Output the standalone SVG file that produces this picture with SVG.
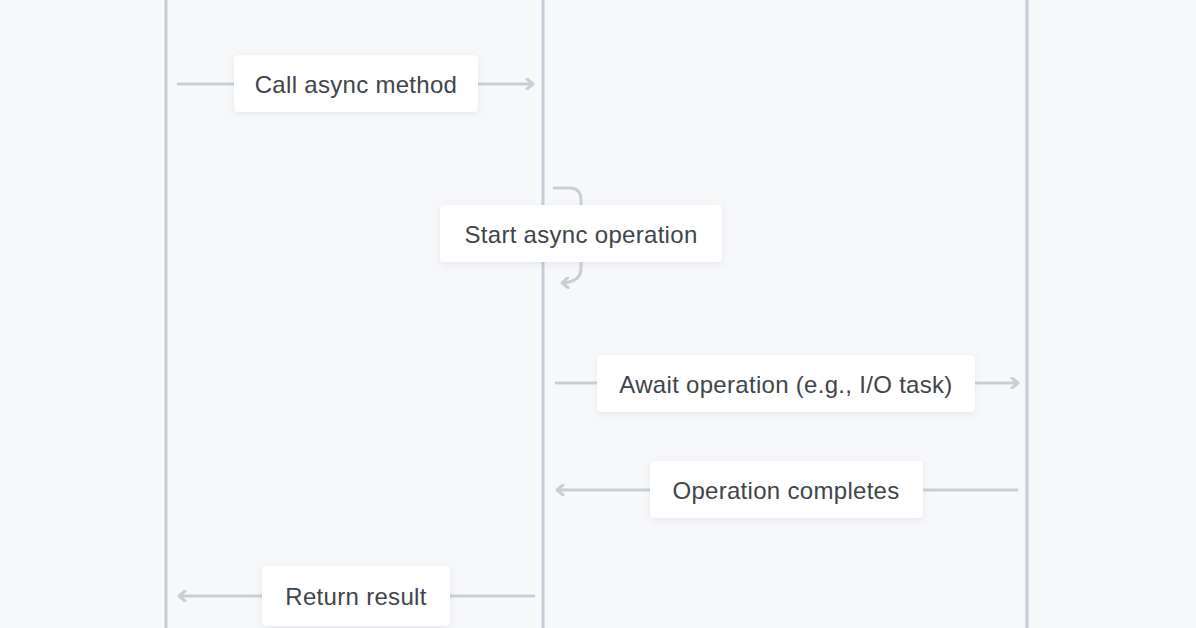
<svg xmlns="http://www.w3.org/2000/svg" width="1196" height="628" viewBox="0 0 1196 628">
<defs>
<style>
.life{stroke:#c4ccd6;stroke-width:3;fill:none}
.msg{stroke:#c9ced5;stroke-width:3;fill:none}
.lbl{fill:#ffffff}
.txt{font-family:"Liberation Sans",Arial,sans-serif;font-size:24px;fill:#404549;text-anchor:middle;letter-spacing:0.3px}
.part{fill:#ffffff}
</style>
<filter id="sh" x="-10%" y="-30%" width="120%" height="160%">
<feDropShadow dx="0" dy="2" stdDeviation="3" flood-color="#8a96a8" flood-opacity="0.18"/>
</filter>
<marker id="ah" markerWidth="12" markerHeight="12" refX="9" refY="6" orient="auto" markerUnits="userSpaceOnUse">
<path d="M3,1 L9,6 L3,11" fill="none" stroke="#c9ced5" stroke-width="3" stroke-linecap="round" stroke-linejoin="round"/>
</marker>
</defs>
<rect x="0" y="0" width="1196" height="628" fill="#f7f8fa"/>
<g id="participants">
<rect class="part" x="18" y="-82" width="282" height="82" rx="6" filter="url(#sh)"/>
<rect class="part" x="404" y="-82" width="284" height="82" rx="6" filter="url(#sh)"/>
<rect class="part" x="890" y="-82" width="280" height="82" rx="6" filter="url(#sh)"/>
</g>
<g id="lifelines">
<line class="life" x1="166" y1="0" x2="166" y2="628"/>
<line class="life" x1="543" y1="0" x2="543" y2="628"/>
<line class="life" x1="1027" y1="0" x2="1027" y2="628"/>
</g>
<g id="connectors">
<line class="msg" x1="177" y1="84" x2="533" y2="84" marker-end="url(#ah)"/>
<path class="msg" d="M553,188 H569 Q581,188 581,200 V268 Q581,282 562,283" marker-end="url(#ah)"/>
<line class="msg" x1="555" y1="383" x2="1018" y2="383" marker-end="url(#ah)"/>
<line class="msg" x1="1018" y1="490" x2="557" y2="490" marker-end="url(#ah)"/>
<line class="msg" x1="535" y1="596" x2="179" y2="596" marker-end="url(#ah)"/>
</g>
<g id="msg1">
<rect class="lbl" x="234" y="55" width="244" height="57" rx="4" filter="url(#sh)"/>
<text class="txt" x="356" y="93">Call async method</text>
</g>
<g id="msg2">
<rect class="lbl" x="440" y="205" width="282" height="57" rx="4" filter="url(#sh)"/>
<text class="txt" x="581" y="243">Start async operation</text>
</g>
<g id="msg3">
<rect class="lbl" x="597" y="355" width="378" height="57" rx="4" filter="url(#sh)"/>
<text class="txt" x="786" y="393">Await operation (e.g., I/O task)</text>
</g>
<g id="msg4">
<rect class="lbl" x="650" y="461" width="273" height="57" rx="4" filter="url(#sh)"/>
<text class="txt" x="786" y="499">Operation completes</text>
</g>
<g id="msg5">
<rect class="lbl" x="262" y="566" width="188" height="60" rx="4" filter="url(#sh)"/>
<text class="txt" x="356" y="605">Return result</text>
</g>
</svg>
